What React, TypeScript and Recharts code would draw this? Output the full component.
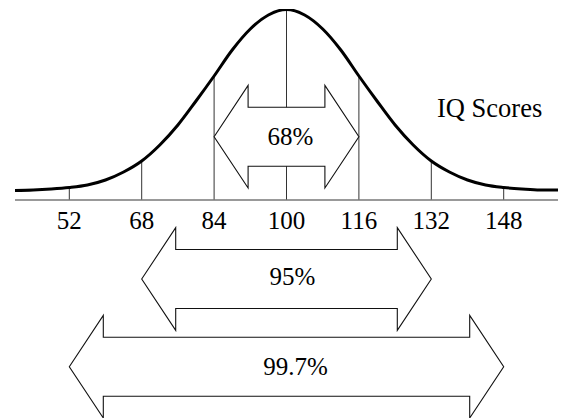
import { ComposedChart, Line, XAxis, YAxis, ReferenceLine, ReferenceArea } from 'recharts';

// IQ score grid and the bell curve height (1 unit ~ 1px)
const scores = [40, 44, 48, 52, 56, 60, 64, 68, 72, 76, 80, 84, 88, 92, 96, 100, 104, 108, 112, 116, 120, 124, 128, 132, 136, 140, 144, 148, 152, 156, 160];
const curveHeight = [9.5, 10, 11, 12.5, 15, 20, 28, 39, 55, 75, 99, 124, 150, 171, 185, 190.5, 185, 171, 150, 124, 99, 75, 55, 39, 28, 20, 15, 12.5, 11, 10, 10];

const tickScores = [52, 68, 84, 100, 116, 132, 148];

// the three ranges shown as double arrows
const bandLabels = ['68%', '95%', '99.7%'];
const bandLow = [84, 68, 52];
const bandHigh = [116, 132, 148];

const data = scores.map((score, i) => ({ score, h: curveHeight[i] }));
const heightAt = (s: number) => curveHeight[scores.indexOf(s)];

// layout of the arrows (y in chart units, label nudges in px)
const ARROW_CENTER = [63.3, -79, -166.7];
const ARROW_HALF = 51.3;
const LABEL_DX = [4, 6, 9];
const LABEL_DY = [0, -3, 0];

const FONT = 'Liberation Serif, Times New Roman, serif';

function DoubleArrow(props: any) {
  const { x, y, width, height, text, dx, dy } = props;
  const x0 = x;
  const x1 = x + width;
  const top = Math.min(y, y + height);
  const H = Math.abs(height) / 2;
  const cy = top + H;
  const S = H * 0.575;
  const L = 34;
  const pts = [
    [x0, cy],
    [x0 + L, cy - H],
    [x0 + L, cy - S],
    [x1 - L, cy - S],
    [x1 - L, cy - H],
    [x1, cy],
    [x1 - L, cy + H],
    [x1 - L, cy + S],
    [x0 + L, cy + S],
    [x0 + L, cy + H],
  ]
    .map((p) => p.join(','))
    .join(' ');
  return (
    <g>
      <polygon points={pts} fill="#fff" stroke="#111" strokeWidth={1.1} />
      <text
        x={(x0 + x1) / 2 + dx}
        y={cy + 8.5 + dy}
        textAnchor="middle"
        fontSize={25}
        style={{ fontFamily: FONT }}
        fill="#000"
      >
        {text}
      </text>
    </g>
  );
}

export default function App() {
  return (
    <div style={{ position: 'absolute', left: 0, top: 0, width: 566, height: 418, background: '#fff', fontFamily: FONT }}>
      <ComposedChart width={566} height={418} data={data} margin={{ top: 9, right: 8, bottom: 188, left: 15 }}>
        <XAxis
          dataKey="score"
          type="number"
          domain={[40, 160]}
          ticks={tickScores}
          interval={0}
          allowDataOverflow
          height={30}
          tickLine={false}
          tickMargin={5}
          axisLine={{ stroke: '#777', strokeWidth: 1.5 }}
          tick={{ fill: '#000', fontSize: 25, style: { fontFamily: FONT } }}
        />
        <YAxis hide type="number" domain={[0, 191]} allowDataOverflow />
        {tickScores.map((s) => (
          <ReferenceLine
            key={s}
            segment={[
              { x: s, y: 0 },
              { x: s, y: heightAt(s) },
            ]}
            stroke="#333"
            strokeWidth={1}
            ifOverflow="visible"
          />
        ))}
        <Line
          type="monotone"
          dataKey="h"
          stroke="#000"
          strokeWidth={3}
          dot={false}
          activeDot={false}
          isAnimationActive={false}
        />
        {bandLabels.map((label, i) => (
          <ReferenceArea
            key={label}
            x1={bandLow[i]}
            x2={bandHigh[i]}
            y1={ARROW_CENTER[i] - ARROW_HALF}
            y2={ARROW_CENTER[i] + ARROW_HALF}
            ifOverflow="visible"
            zIndex={1500}
            shape={(p: any) => <DoubleArrow {...p} text={label} dx={LABEL_DX[i]} dy={LABEL_DY[i]} />}
          />
        ))}
        <text x={437} y={117} fontSize={26.5} style={{ fontFamily: FONT }} fill="#000">
          IQ Scores
        </text>
      </ComposedChart>
    </div>
  );
}
